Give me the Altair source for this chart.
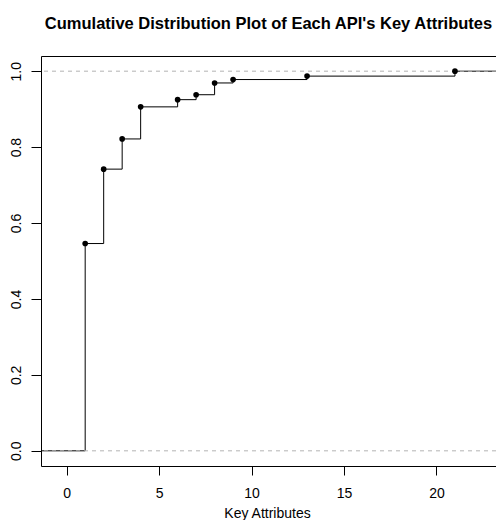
import altair as alt
import pandas as pd

# ECDF knots (number of key attributes) and cumulative proportions
knots = [1, 2, 3, 4, 6, 7, 8, 9, 13, 21]
levels = [0.546, 0.742, 0.8215, 0.906, 0.925, 0.938, 0.969, 0.978, 0.987, 1.0]

x_ticks = [0, 5, 10, 15, 20]
y_ticks = [0.0, 0.2, 0.4, 0.6, 0.8, 1.0]
ref_levels = [0.0, 1.0]

x_dom = [-1.39, 23.22]
y_dom = [-0.04, 1.04]

step_df = pd.DataFrame({
    "x": [x_dom[0]] + knots + [x_dom[1]],
    "y": [0.0] + levels + [1.0],
})
pts_df = pd.DataFrame({"x": knots, "y": levels})
ref_df = pd.DataFrame({"y": ref_levels})

xscale = alt.Scale(domain=x_dom, nice=False, zero=False)
yscale = alt.Scale(domain=y_dom, nice=False, zero=False)

xaxis = alt.Axis(values=x_ticks, title="Key Attributes", grid=False, domain=False,
                 tickSize=9, tickColor="black", labelPadding=22,
                 labelBaseline="alphabetic", labelFontSize=14, labelColor="black",
                 titleFontSize=14, titleFontWeight="normal", titleColor="black",
                 titleBaseline="alphabetic", titleY=51, titleX=226, titleAnchor="middle")
yaxis = alt.Axis(values=y_ticks, format=".1f", title=None, grid=False, domain=False,
                 tickSize=10, tickColor="black", labelAngle=270, labelAlign="center",
                 labelBaseline="alphabetic", labelPadding=11, labelFontSize=14,
                 labelColor="black")

steps = alt.Chart(step_df).mark_line(interpolate="step-after", color="black",
                                     strokeWidth=1, clip=True).encode(
    x=alt.X("x:Q", scale=xscale, axis=xaxis),
    y=alt.Y("y:Q", scale=yscale, axis=yaxis),
)

refs = alt.Chart(ref_df).mark_rule(color="#B3B3B3", strokeDash=[4, 4],
                                   strokeWidth=1).encode(
    y=alt.Y("y:Q", scale=yscale),
)

pts = alt.Chart(pts_df).mark_circle(color="black", opacity=1, size=32).encode(
    x=alt.X("x:Q", scale=xscale),
    y=alt.Y("y:Q", scale=yscale),
)

chart = alt.layer(steps, refs, pts).properties(
    width=455,
    height=410,
    autosize=alt.AutoSizeParams(type="none"),
    padding={"left": 33, "top": 48, "right": 0, "bottom": 54},
    title=alt.TitleParams(
        "Cumulative Distribution Plot of Each API's Key Attributes",
        fontSize=16.5, fontWeight="bold", color="black", anchor="middle",
        frame="group", baseline="alphabetic", offset=11,
    ),
).configure(
    font="Liberation Sans",
).configure_view(
    stroke="black", strokeWidth=1,
)

chart.save("out.html", embed_options={"renderer": "svg", "actions": False})
